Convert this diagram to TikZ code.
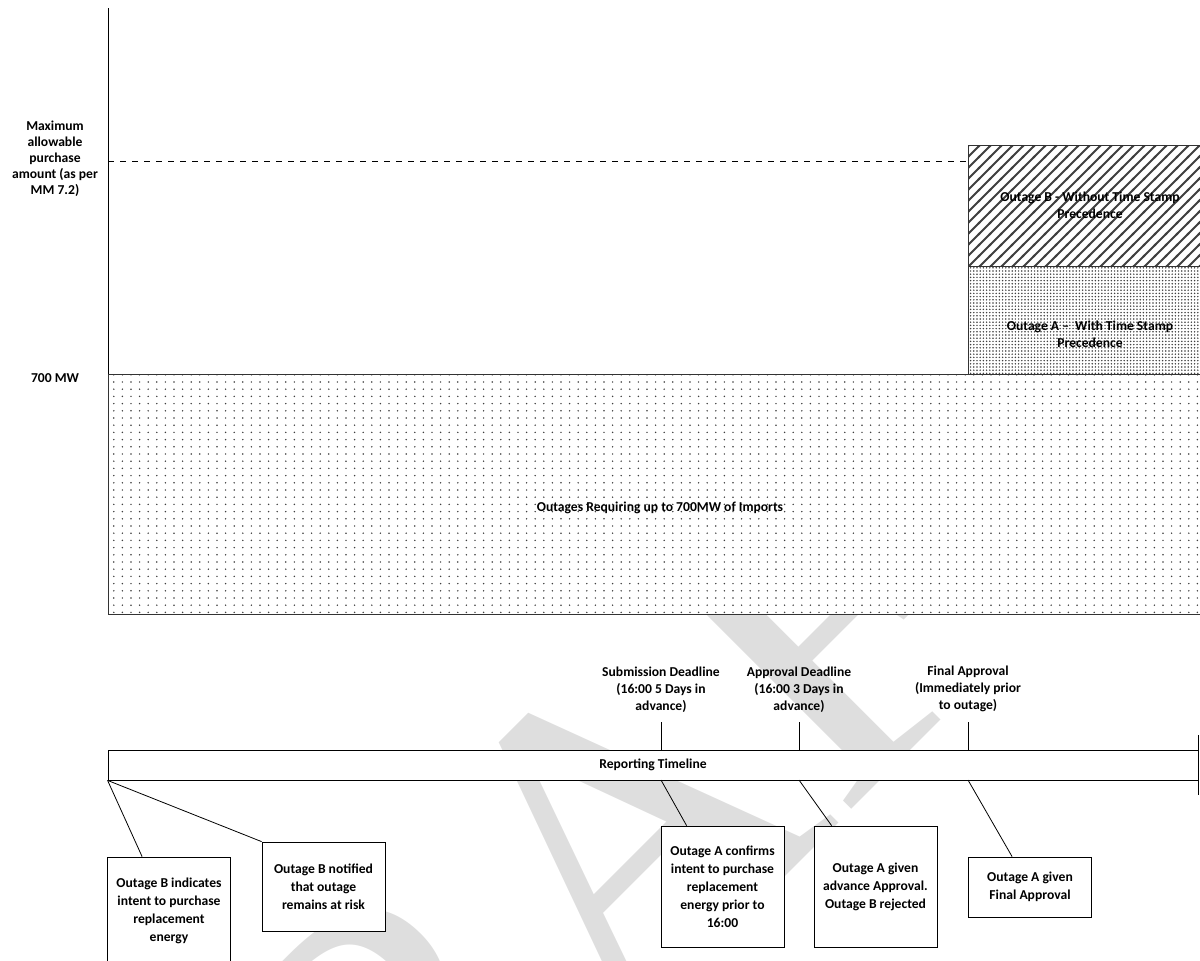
\documentclass[tikz,border=0pt]{standalone}
\usepackage{fontspec}
\setmainfont{Carlito}
\newfontfamily\draftFont{Liberation Serif}
\usetikzlibrary{calc, patterns}

\pgfdeclarepatternformonly{sparseDots}{\pgfqpoint{-1pt}{-1pt}}{\pgfqpoint{5pt}{5pt}}{\pgfqpoint{4.3pt}{3.6pt}}{%
    \pgfpathcircle{\pgfqpoint{1pt}{1pt}}{0.42pt}\pgfusepath{fill}}
\pgfdeclarepatternformonly{denseDots}{\pgfqpoint{-1pt}{-1pt}}{\pgfqpoint{2pt}{2pt}}{\pgfqpoint{1.6pt}{1.6pt}}{%
    \pgfpathcircle{\pgfqpoint{0.5pt}{0.5pt}}{0.42pt}\pgfusepath{fill}}
\pgfdeclarepatternformonly{wideHatch}{\pgfqpoint{-1pt}{-1pt}}{\pgfqpoint{7pt}{7pt}}{\pgfqpoint{5.5pt}{5.5pt}}{%
    \pgfsetlinewidth{1pt}\pgfpathmoveto{\pgfqpoint{-0.5pt}{-0.5pt}}\pgfpathlineto{\pgfqpoint{6pt}{6pt}}\pgfusepath{stroke}}

\tikzstyle{chartBlock}    = [rectangle,
                             draw=black!80,
                             preaction={fill=white},
                             inner sep=0pt,
                             text centered,
                             align=center]
\tikzstyle{axisLabel}     = [align=center,
                             inner sep=1pt,
                             font=\fontsize{6.8}{8}\selectfont\bfseries]
\tikzstyle{deadlineLabel} = [align=center,
                             inner sep=1pt,
                             font=\fontsize{6.8}{8.5}\selectfont\bfseries]
\tikzstyle{eventBox}      = [rectangle,
                             draw=black,
                             fill=white,
                             minimum width=61.5pt,
                             align=center,
                             inner sep=2pt,
                             font=\fontsize{6.8}{9}\selectfont\bfseries]
\tikzstyle{timelineBar}   = [rectangle,
                             draw=black,
                             fill=white,
                             minimum width=545pt,
                             minimum height=15pt,
                             inner sep=0pt,
                             font=\fontsize{6.8}{8.5}\selectfont\bfseries]
\tikzstyle{line}          = [thin]

\begin{document}
\begin{tikzpicture}[x=0.5pt, y=-0.5pt, font=\fontsize{6.8}{8.5}\selectfont\bfseries]
    \useasboundingbox (0,0) rectangle (1200,960);

    % watermark, behind the chart area
    \node [text=black!13, rotate=45, inner sep=0pt,
           font=\draftFont\fontsize{225}{225}\selectfont] (draftMark) at (586,866) {DRAFT};
    \fill [white] (0,0) rectangle (1200,374);

    % purchase levels
    \draw [line] (108,8) -- (108,374);
    \draw [dashed, thin] (108,161) -- (1206,161);

    \node [chartBlock, pattern=sparseDots, pattern color=black!75,
           minimum width=549pt, minimum height=120pt] (baseBlock) at (657,494) {};
    \node (baseText) at (660,508) {Outages Requiring up to 700MW of Imports};

    \node [chartBlock, pattern=wideHatch, pattern color=black!75,
           minimum width=119pt, minimum height=60.5pt] (outageB) at (1087,205.5) {};
    \node [align=center] (outageBText) at (1090,205) {Outage B - Without Time Stamp\\Precedence};

    \node [chartBlock, pattern=denseDots, pattern color=black!75,
           minimum width=119pt, minimum height=54pt] (outageA) at (1087,320) {};
    \node [align=center] (outageAText) at (1090,334) {Outage A --\ \ With Time Stamp\\Precedence};

    \node [axisLabel] (maxLabel) at (55,159) {Maximum\\allowable\\purchase\\amount (as per\\MM 7.2)};
    \node [axisLabel] (mwLabel)  at (55,378) {700 MW};

    % timeline
    \node [timelineBar] (timeline) at (653,765) {Reporting Timeline};
    \draw [line] (timeline.north east) -- ++(0,-15);
    \draw [line] (timeline.south east) -- ++(0,15);

    \node [deadlineLabel] (subLabel)   at (661,690) {Submission Deadline\\(16:00 5 Days in\\advance)};
    \node [deadlineLabel] (apprLabel)  at (799,690) {Approval Deadline\\(16:00 3 Days in\\advance)};
    \node [deadlineLabel] (finalLabel) at (968,689) {Final Approval\\(Immediately prior\\to outage)};

    \foreach \x/\nm in {661/sub, 799/appr, 968/final} {
        \coordinate (\nm Top) at (\x,750);
        \coordinate (\nm Bot) at (\x,780);
        \draw [line] (\x,722) -- (\nm Top);
    }

    % events
    \node [eventBox, minimum height=54pt] (intentB)   at (169,911)   {Outage B indicates\\intent to purchase\\replacement\\energy};
    \node [eventBox, minimum height=44.5pt] (notifiedB) at (323.5,886.5) {Outage B notified\\that outage\\remains at risk};
    \node [eventBox, minimum height=60.5pt] (confirmA)  at (722.5,886.5) {Outage A confirms\\intent to purchase\\replacement\\energy prior to\\16:00};
    \node [eventBox, minimum height=60.5pt] (approvedA) at (875.5,886.5) {Outage A given\\advance Approval.\\Outage B rejected};
    \node [eventBox, minimum height=30pt] (finalA)    at (1030,887)  {Outage A given\\Final Approval};

    \draw [line] (timeline.south west) -- ($(intentB.north west)+(35,0)$);
    \draw [line] (timeline.south west) -- (notifiedB.north west);
    \draw [line] (subBot)   -- ($(confirmA.north west)+(26,0)$);
    \draw [line] (apprBot)  -- ($(approvedA.north west)+(18,0)$);
    \draw [line] (finalBot) -- ($(finalA.north west)+(44,0)$);

\end{tikzpicture}
\end{document}
